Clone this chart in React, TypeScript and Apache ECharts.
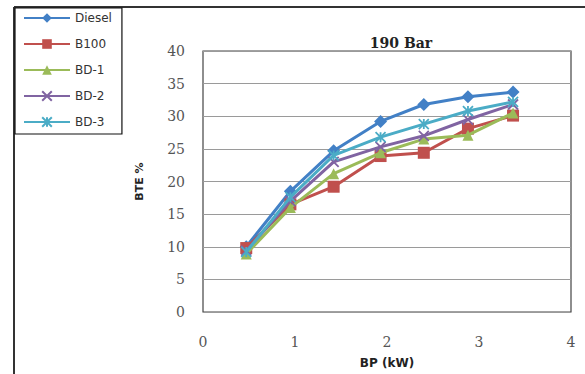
import React, { useEffect, useRef } from "react";
import * as echarts from "echarts";

const bp = [0.47, 0.95, 1.42, 1.93, 2.4, 2.88, 3.37];
const diesel = [10, 18.5, 24.7, 29.2, 31.8, 33, 33.7];
const b100 = [9.8, 16.5, 19.2, 23.9, 24.4, 28.1, 30.1];
const bd1 = [8.9, 16, 21.2, 24.4, 26.5, 27.1, 30.5];
const bd2 = [9.4, 17, 23, 25.3, 27, 29.5, 31.8];
const bd3 = [9.2, 17.6, 24, 26.8, 28.8, 30.8, 32.2];
const seriesNames = ["Diesel", "B100", "BD-1", "BD-2", "BD-3"];
const xTicks = [0, 1, 2, 3, 4];
const chartTitle = "190 Bar";

const colors = ["#4280c6", "#c0504d", "#9bbb59", "#8064a2", "#4bacc6"];

const crossPath = "path://M0,0L10,10M10,0L0,10";
const starPath = "path://M0,0L10,10M10,0L0,10M5,0L5,10";

export default function App() {
  const ref = useRef<HTMLDivElement>(null);
  useEffect(() => {
    if (!ref.current) return;
    const chart = echarts.init(ref.current, undefined, { renderer: "svg" });
    const values = [diesel, b100, bd1, bd2, bd3];
    const symbols = ["diamond", "rect", "triangle", crossPath, starPath];
    const sizes = [13, 12, 11, 10, 10];
    const series = values.map((vals, i) => {
      const stroked = i >= 3;
      return {
        name: seriesNames[i],
        type: "line",
        data: vals.map((v, j) => [bp[j], v]),
        symbol: symbols[i],
        symbolSize: sizes[i],
        showSymbol: true,
        lineStyle: { color: colors[i], width: 3 },
        itemStyle: stroked
          ? { color: colors[i], borderColor: colors[i], borderWidth: 1.8 }
          : { color: colors[i], borderWidth: 0 },
        z: 2 + i,
      };
    });
    chart.setOption({
      animation: false,
      backgroundColor: "#ffffff",
      title: {
        text: chartTitle,
        left: 396,
        top: 31,
        textAlign: "center",
        textStyle: {
          fontFamily: "DejaVu Serif",
          fontWeight: "bold",
          fontSize: 14,
          color: "#222",
        },
      },
      legend: {
        orient: "vertical",
        left: 15,
        top: 8,
        padding: [4, 10, 6, 8],
        itemGap: 14,
        itemWidth: 46,
        itemHeight: 12,
        borderColor: "#111",
        borderWidth: 1.2,
        textStyle: {
          fontFamily: "DejaVu Sans",
          fontSize: 12,
          color: "#333",
        },
        data: seriesNames,
      },
      grid: {
        left: 203,
        top: 51,
        right: 14,
        bottom: 57,
        show: true,
        borderColor: "#444",
        borderWidth: 1.2,
        backgroundColor: "transparent",
      },
      xAxis: {
        type: "value",
        min: xTicks[0],
        max: xTicks[xTicks.length - 1],
        interval: 1,
        name: "BP (kW)",
        nameLocation: "middle",
        nameGap: 45,
        nameTextStyle: {
          fontFamily: "DejaVu Sans",
          fontWeight: "bold",
          fontSize: 12,
          color: "#222",
        },
        axisLine: { show: false },
        axisTick: { show: false },
        splitLine: { show: false },
        axisLabel: {
          margin: 23,
          fontFamily: "DejaVu Serif",
          fontSize: 14,
          color: "#555",
        },
      },
      yAxis: {
        type: "value",
        min: 0,
        max: 40,
        interval: 5,
        name: "BTE %",
        nameLocation: "middle",
        nameGap: 58,
        nameRotate: 90,
        nameTextStyle: {
          fontFamily: "DejaVu Sans",
          fontWeight: "bold",
          fontSize: 11,
          color: "#222",
        },
        axisLine: { show: false },
        axisTick: { show: false },
        splitLine: { show: true, lineStyle: { color: "#9a9a9a", width: 1.2 } },
        axisLabel: {
          margin: 18,
          fontFamily: "DejaVu Serif",
          fontSize: 14,
          color: "#555",
        },
      },
      graphic: [
        {
          type: "line",
          shape: { x1: 14, y1: 7, x2: 585, y2: 7 },
          style: { stroke: "#333", lineWidth: 2 },
        },
        {
          type: "line",
          shape: { x1: 14, y1: 7, x2: 14, y2: 374 },
          style: { stroke: "#333", lineWidth: 2 },
        },
      ],
      series,
    });
    return () => chart.dispose();
  }, []);
  return (
    <div
      ref={ref}
      style={{ position: "fixed", left: 0, top: 0, width: 585, height: 374 }}
    />
  );
}
